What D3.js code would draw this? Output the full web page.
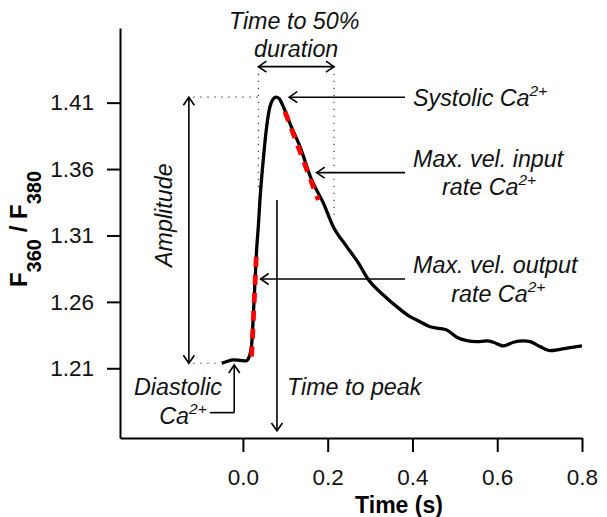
<!DOCTYPE html>
<html><head><meta charset="utf-8">
<script src="https://cdn.jsdelivr.net/npm/d3@7"></script>
<style>body{margin:0;background:#fff}</style>
</head><body>
<svg id="chart" width="607" height="517"></svg>
<script>
// ---- data ----
const time = [-0.050,-0.038,-0.023,-0.007,0.007,0.015,0.0205,0.0264,0.0323,0.0366,0.0401,0.0479,0.056,0.0638,0.0708,0.0779,0.085,0.0952,0.1133,0.1346,0.1622,0.1896,0.2132,0.2449,0.2723,0.2959,0.3313,0.3629,0.3943,0.4179,0.4416,0.4612,0.481,0.5046,0.5282,0.5518,0.5754,0.591,0.6146,0.6383,0.6619,0.6777,0.7013,0.7249,0.7485,0.7721,0.7998];
const ratio = [1.2138,1.2151,1.2163,1.2159,1.2155,1.2187,1.2275,1.2614,1.2991,1.3179,1.3364,1.3666,1.3919,1.4070,1.4124,1.4141,1.4132,1.4070,1.3925,1.3769,1.3518,1.3345,1.3166,1.3016,1.2893,1.2768,1.2652,1.2564,1.2489,1.2451,1.2413,1.2401,1.2388,1.2333,1.2308,1.2300,1.2306,1.2296,1.2268,1.2296,1.2306,1.2300,1.2263,1.2233,1.2243,1.2255,1.2268];
const riseTangentT = [0.0205, 0.0323];
const riseTangentV = [1.2187, 1.2991];
const decayTangentT = [0.0992, 0.1778];
const decayTangentV = [1.4032, 1.3367];
const halfDurationT = [0.0366, 0.2149];
const xTicks = [0, 0.2, 0.4, 0.6, 0.8];
const yTicks = [1.21, 1.26, 1.31, 1.36, 1.41];

// ---- scales ----
const svg = d3.select('#chart');
const x = d3.scaleLinear().domain([-0.29, 0.8]).range([120, 582]);
const y = d3.scaleLinear().domain([1.1575, 1.4662]).range([438, 28]);
const FONT = 'Arial, "Liberation Sans", sans-serif';

// ---- axes ----
const gx = svg.append('g').attr('transform', 'translate(0,438)')
  .call(d3.axisBottom(x).tickValues(xTicks).tickFormat(d3.format('.1f')).tickSize(14).tickSizeOuter(0).tickPadding(17));
const gy = svg.append('g').attr('transform', 'translate(120,0)')
  .call(d3.axisLeft(y).tickValues(yTicks).tickFormat(d3.format('.2f')).tickSize(13).tickSizeOuter(0).tickPadding(13));
[gx, gy].forEach(g => {
  g.selectAll('path,line').attr('stroke', '#000').attr('stroke-width', 2);
  g.selectAll('text').attr('font-family', FONT).attr('font-size', 22.5).attr('fill', '#111');
});

svg.append('text').attr('x', 399).attr('y', 513).attr('text-anchor', 'middle')
  .attr('font-family', FONT).attr('font-weight', 'bold').attr('font-size', 23).text('Time (s)');

const yt = svg.append('text').attr('transform', 'translate(27,229) rotate(-90)').attr('text-anchor', 'middle')
  .attr('font-family', FONT).attr('font-weight', 'bold').attr('font-size', 24);
yt.append('tspan').text('F');
yt.append('tspan').attr('font-size', 20).attr('dy', 14).text('360');
yt.append('tspan').attr('dy', -14).text(' / F');
yt.append('tspan').attr('font-size', 20).attr('dy', 14).text('380');

// ---- curve ----
const pts = time.map((t, i) => [t, ratio[i]]);
const line = d3.line().x(d => x(d[0])).y(d => y(d[1])).curve(d3.curveMonotoneX);
svg.append('path').attr('d', line(pts)).attr('fill', 'none').attr('stroke', '#000')
  .attr('stroke-width', 3.3).attr('stroke-linejoin', 'round');

const tline = d3.line().x(d => x(d[0])).y(d => y(d[1]));
[[riseTangentT, riseTangentV], [decayTangentT, decayTangentV]].forEach(([tt, vv]) => {
  svg.append('path').attr('d', tline(tt.map((t, i) => [t, vv[i]])))
    .attr('fill', 'none').attr('stroke', '#ff0000').attr('stroke-width', 4.8).attr('stroke-dasharray', '10,8');
});

// ---- annotations ----
const peakV = d3.max(ratio);
const baseV = ratio[0];
const ann = svg.append('g');
function seg(x1, y1, x2, y2, dotted) {
  const l = ann.append('line').attr('x1', x1).attr('y1', y1).attr('x2', x2).attr('y2', y2)
    .attr('stroke', dotted ? '#444' : '#000').attr('stroke-width', dotted ? 1.2 : 1.6);
  if (dotted) l.attr('stroke-dasharray', '1.3,5.7');
}
function head(tx, ty, fx, fy) {
  const a = Math.atan2(ty - fy, tx - fx), L = 8, W = 5.5;
  const bx = tx - L * Math.cos(a), by = ty - L * Math.sin(a);
  const px = -Math.sin(a) * W, py = Math.cos(a) * W;
  ann.append('path').attr('d', `M${bx + px},${by + py}L${tx},${ty}L${bx - px},${by - py}`)
    .attr('fill', 'none').attr('stroke', '#000').attr('stroke-width', 1.6);
}
function arrow(x1, y1, x2, y2, both) {
  seg(x1, y1, x2, y2);
  head(x2, y2, x1, y1);
  if (both) head(x1, y1, x2, y2);
}
function itext(tx, ty, anchor, main, sup) {
  const t = ann.append('text').attr('x', tx).attr('y', ty).attr('text-anchor', anchor)
    .attr('font-family', FONT).attr('font-style', 'italic').attr('font-size', 23.3).attr('fill', '#111');
  t.append('tspan').text(main);
  if (sup) t.append('tspan').attr('font-size', 15.5).attr('dy', -10).text(sup);
  return t;
}

// amplitude
const ampX = x(-0.1275);
arrow(ampX, y(peakV), ampX, y(baseV), true);
seg(x(-0.117), y(peakV), x(halfDurationT[0]), y(peakV), true);
seg(x(-0.117), y(baseV), x(-0.061), y(baseV), true);
ann.append('text').attr('transform', `translate(172,${(y(peakV) + y(baseV)) / 2 - 15}) rotate(-90)`)
  .attr('text-anchor', 'middle').attr('font-family', FONT).attr('font-style', 'italic')
  .attr('font-size', 23.3).attr('fill', '#111').text('Amplitude');

// time to 50% duration
const durY = y(1.4371);
seg(x(halfDurationT[0]), durY, x(halfDurationT[0]), y(1.3443), true);
seg(x(halfDurationT[1]), durY, x(halfDurationT[1]), y(1.3247), true);
arrow(x(halfDurationT[0]), durY, x(halfDurationT[1]), durY, true);
const durC = (x(halfDurationT[0]) + x(halfDurationT[1])) / 2;
itext(durC - 2, durY - 38, 'middle', 'Time to 50%');
itext(durC, durY - 10, 'middle', 'duration');

// right side labels
const labX = x(0.3825);
arrow(labX, y(peakV), x(0.1093), y(peakV));
itext(labX + 8, y(peakV) + 9, 'start', 'Systolic Ca', '2+');

const inY = y(1.3573);
arrow(labX, inY, x(0.174), inY);
const l1 = itext(labX + 8, inY - 6, 'start', 'Max. vel. input');
const w1 = l1.node().getComputedTextLength();
itext(labX + 8 + w1 / 2 + 1, inY + 22.3, 'middle', 'rate Ca', '2+');

const outY = y(1.2772);
arrow(labX, outY, x(0.0418), outY);
const l2 = itext(labX + 8, outY - 6, 'start', 'Max. vel. output');
const w2 = l2.node().getComputedTextLength();
itext(labX + 8 + w2 / 2 + 3, outY + 22.7, 'middle', 'rate Ca', '2+');

// time to peak
const tpX = x(0.0803);
arrow(tpX, y(1.3367), tpX, y(1.1628));
itext(tpX + 10, 395, 'start', 'Time to peak');

// diastolic
const dY = y(1.1766), dX = x(-0.0205);
seg(x(-0.078), dY, dX, dY);
arrow(dX, dY, dX, y(1.2125));
itext(178, 395, 'middle', 'Diastolic');
itext(183, 424, 'middle', 'Ca', '2+');
</script>
</body></html>
